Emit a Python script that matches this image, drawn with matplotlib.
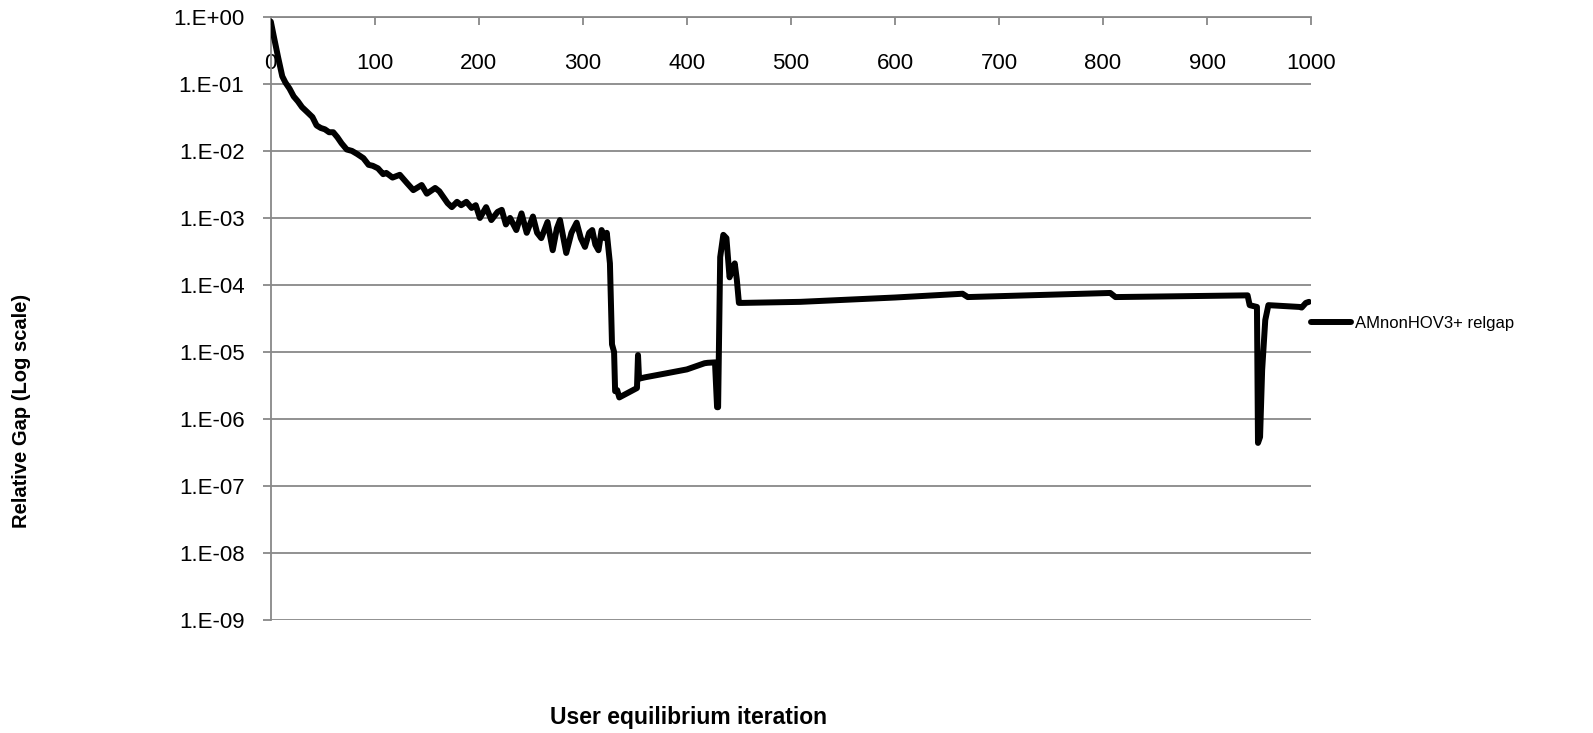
import numpy as np
import matplotlib.pyplot as plt
from matplotlib.ticker import FixedLocator, FuncFormatter

plt.rcParams['font.family'] = ['Liberation Sans', 'DejaVu Sans']

# iteration number and relative gap
iteracion = [0, 3, 7, 11, 14, 18, 22, 26, 30, 35, 40, 44, 48, 52, 56, 60, 64, 68,
             73, 78, 83, 89, 94, 98, 103, 108, 111, 117, 124, 131, 137, 145, 150,
             158, 162, 170, 174, 179, 183, 188, 193, 197, 201, 207, 212, 218, 222,
             226, 230, 236, 241, 246, 252, 256, 260, 266, 271, 275, 278, 284, 289,
             294, 298, 302, 306, 309, 312, 315, 318, 321, 323, 326, 328, 330, 331,
             333, 335, 352, 353, 354, 360, 380, 400, 417, 420, 427, 429, 430, 432,
             435, 438, 441, 444, 446, 448, 450, 453, 509, 600, 665, 670, 807, 812,
             939, 941, 948, 949, 951, 953, 956, 959, 989, 991, 995, 998]
relgap = [0.85, 0.5, 0.25, 0.13, 0.105, 0.085, 0.065, 0.055, 0.045, 0.038, 0.032,
          0.024, 0.022, 0.021, 0.019, 0.019, 0.016, 0.013, 0.0105, 0.0100, 0.0090,
          0.0078, 0.0062, 0.0060, 0.0055, 0.0045, 0.0047, 0.0040, 0.0044, 0.0033,
          0.0026, 0.0031, 0.0023, 0.0028, 0.0025, 0.00166, 0.00145, 0.00174,
          0.00155, 0.00174, 0.00141, 0.00155, 0.0010, 0.00145, 0.00093, 0.00123,
          0.00132, 0.0008, 0.0010, 0.00066, 0.00117, 0.0006, 0.00105, 0.0006,
          0.0005, 0.00087, 0.00033, 0.0007, 0.00093, 0.0003, 0.0006, 0.00085,
          0.0005, 0.00037, 0.0006, 0.00066, 0.0004, 0.00033, 0.00066, 0.0005,
          0.0006, 0.00021, 1.3e-5, 1.0e-5, 2.6e-6, 2.7e-6, 2.1e-6, 2.9e-6, 9e-6,
          4.0e-6, 4.2e-6, 4.8e-6, 5.5e-6, 6.8e-6, 6.9e-6, 7.0e-6, 1.5e-6, 1.5e-6,
          2.6e-4, 5.6e-4, 5.0e-4, 1.3e-4, 1.8e-4, 2.1e-4, 1.2e-4, 5.4e-5, 5.4e-5,
          5.6e-5, 6.5e-5, 7.4e-5, 6.6e-5, 7.6e-5, 6.6e-5, 7.0e-5, 5.0e-5, 4.7e-5,
          4.4e-7, 5.4e-7, 5.4e-6, 3.0e-5, 5.0e-5, 4.7e-5, 4.6e-5, 5.4e-5, 5.6e-5]

x_ticks = [0, 100, 200, 300, 400, 500, 600, 700, 800, 900, 1000]
y_ticks = [10.0 ** e for e in range(0, -10, -1)]

gris = '#888888'

fig = plt.figure(figsize=(15.93, 7.33), dpi=100)
ax = fig.add_axes([0.170, 0.154, 0.653, 0.823])

ax.plot(iteracion, relgap, color='black', lw=4.3, solid_joinstyle='round',
        solid_capstyle='round', label='AMnonHOV3+ relgap', zorder=3)

ax.set_yscale('log')
ax.set_ylim(1e-9, 1)
ax.set_xlim(0, 1000)

ax.yaxis.set_major_locator(FixedLocator(y_ticks))
ax.yaxis.set_minor_locator(FixedLocator([]))
ax.yaxis.set_major_formatter(FuncFormatter(lambda v, p: "1.E%+03d" % round(np.log10(v))))
ax.set_xticks(x_ticks)

ax.grid(axis='y', color=gris, lw=1.3)
ax.grid(axis='x', visible=False)

for s in ['right', 'bottom']:
    ax.spines[s].set_visible(False)
for s in ['left', 'top']:
    ax.spines[s].set_color(gris)
    ax.spines[s].set_linewidth(1.3)

ax.xaxis.set_ticks_position('top')
ax.tick_params(axis='x', direction='in', length=6, width=1.3, color=gris,
               pad=-41, labelsize=16)
ax.tick_params(axis='y', direction='out', length=6, width=1.3, color=gris,
               pad=13, labelsize=16)

fig.text(0.0138, 0.439, 'Relative Gap (Log scale)', rotation=90, ha='center',
         va='center', fontsize=14.5, fontweight='bold')
fig.text(0.4325, 0.0218, 'User equilibrium iteration', ha='center', va='center',
         fontsize=16.5, fontweight='bold')

ax.legend(loc='center left', bbox_to_anchor=(0.823, 1 - 323 / 733),
          bbox_transform=fig.transFigure, frameon=False, fontsize=12,
          handlelength=2.4, handletextpad=0.25, borderpad=0, borderaxespad=0)

fig.savefig('out.png', dpi=100)
